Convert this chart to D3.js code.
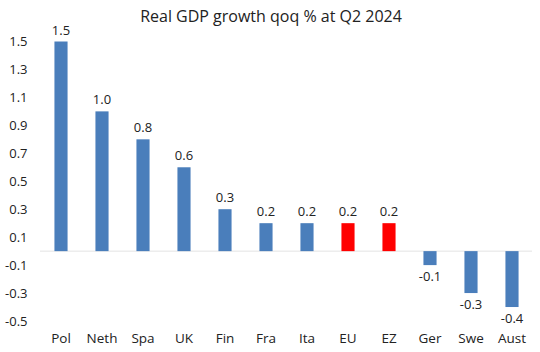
<!DOCTYPE html>
<html>
<head>
<meta charset="utf-8">
<script src="https://cdn.jsdelivr.net/npm/d3@7"></script>
<style>
  body { margin: 0; background: #fff; }
  text { font-family: "Open Sans", "Noto Sans", sans-serif; fill: #222; }
</style>
</head>
<body>
<div id="chart"></div>
<script>
// chart data
const countries = ["Pol", "Neth", "Spa", "UK", "Fin", "Fra", "Ita", "EU", "EZ", "Ger", "Swe", "Aust"];
const growth = [1.5, 1.0, 0.8, 0.6, 0.3, 0.2, 0.2, 0.2, 0.2, -0.1, -0.3, -0.4];
const highlighted = ["EU", "EZ"];
const yTicks = [-0.5, -0.3, -0.1, 0.1, 0.3, 0.5, 0.7, 0.9, 1.1, 1.3, 1.5];

const width = 540, height = 352;

// plain hyphen for negatives, like the original
const fmt = d3.formatLocale({decimal: ".", thousands: ",", grouping: [3], currency: ["", ""], minus: "-"}).format(".1f");

let svg = d3.select("#chart").append("svg")
    .attr("width", width)
    .attr("height", height);

// scales
let x = d3.scaleBand()
    .domain(countries)
    .range([40.5, 532.5])
    .paddingInner(0.68)
    .paddingOuter(0.34);

let y = d3.scaleLinear()
    .domain([-0.5, 1.5])
    .range([321, 41.5]);

// title
svg.append("text")
    .attr("x", 271)
    .attr("y", 22)
    .attr("text-anchor", "middle")
    .style("font-size", "16px")
    .text("Real GDP growth qoq % at Q2 2024");

// y axis (labels only)
let yAxis = d3.axisLeft(y)
    .tickValues(yTicks)
    .tickFormat(fmt)
    .tickSize(0)
    .tickPadding(0);

let yg = svg.append("g")
    .attr("transform", "translate(27.5,0)")
    .call(yAxis);
yg.select(".domain").remove();
yg.selectAll("text").style("font-size", "13px").attr("fill", "#222");

// zero line
svg.append("line")
    .attr("x1", 40)
    .attr("x2", 532)
    .attr("y1", y(0))
    .attr("y2", y(0))
    .attr("stroke", "#e3e3e3")
    .attr("stroke-width", 1);

const data = countries.map((c, i) => ({name: c, value: growth[i]}));

// bars
svg.selectAll("rect.bar")
    .data(data)
    .enter()
    .append("rect")
    .attr("class", "bar")
    .attr("x", d => x(d.name))
    .attr("width", x.bandwidth())
    .attr("y", d => y(Math.max(0, d.value)))
    .attr("height", d => Math.abs(y(d.value) - y(0)))
    .attr("fill", d => highlighted.includes(d.name) ? "#ff0000" : "#4a7ebb");

// value labels
svg.selectAll("text.val")
    .data(data)
    .enter()
    .append("text")
    .attr("class", "val")
    .attr("x", d => x(d.name) + x.bandwidth() / 2)
    .attr("y", d => d.value >= 0 ? y(d.value) - 7 : y(d.value) + 16)
    .attr("text-anchor", "middle")
    .style("font-size", "13px")
    .text(d => fmt(d.value));

// category labels
let xAxis = d3.axisBottom(x).tickSize(0).tickPadding(0);
let xg = svg.append("g")
    .attr("transform", "translate(0,343)")
    .call(xAxis);
xg.select(".domain").remove();
xg.selectAll("text").attr("dy", 0).style("font-size", "13.5px").attr("fill", "#222");
</script>
</body>
</html>
